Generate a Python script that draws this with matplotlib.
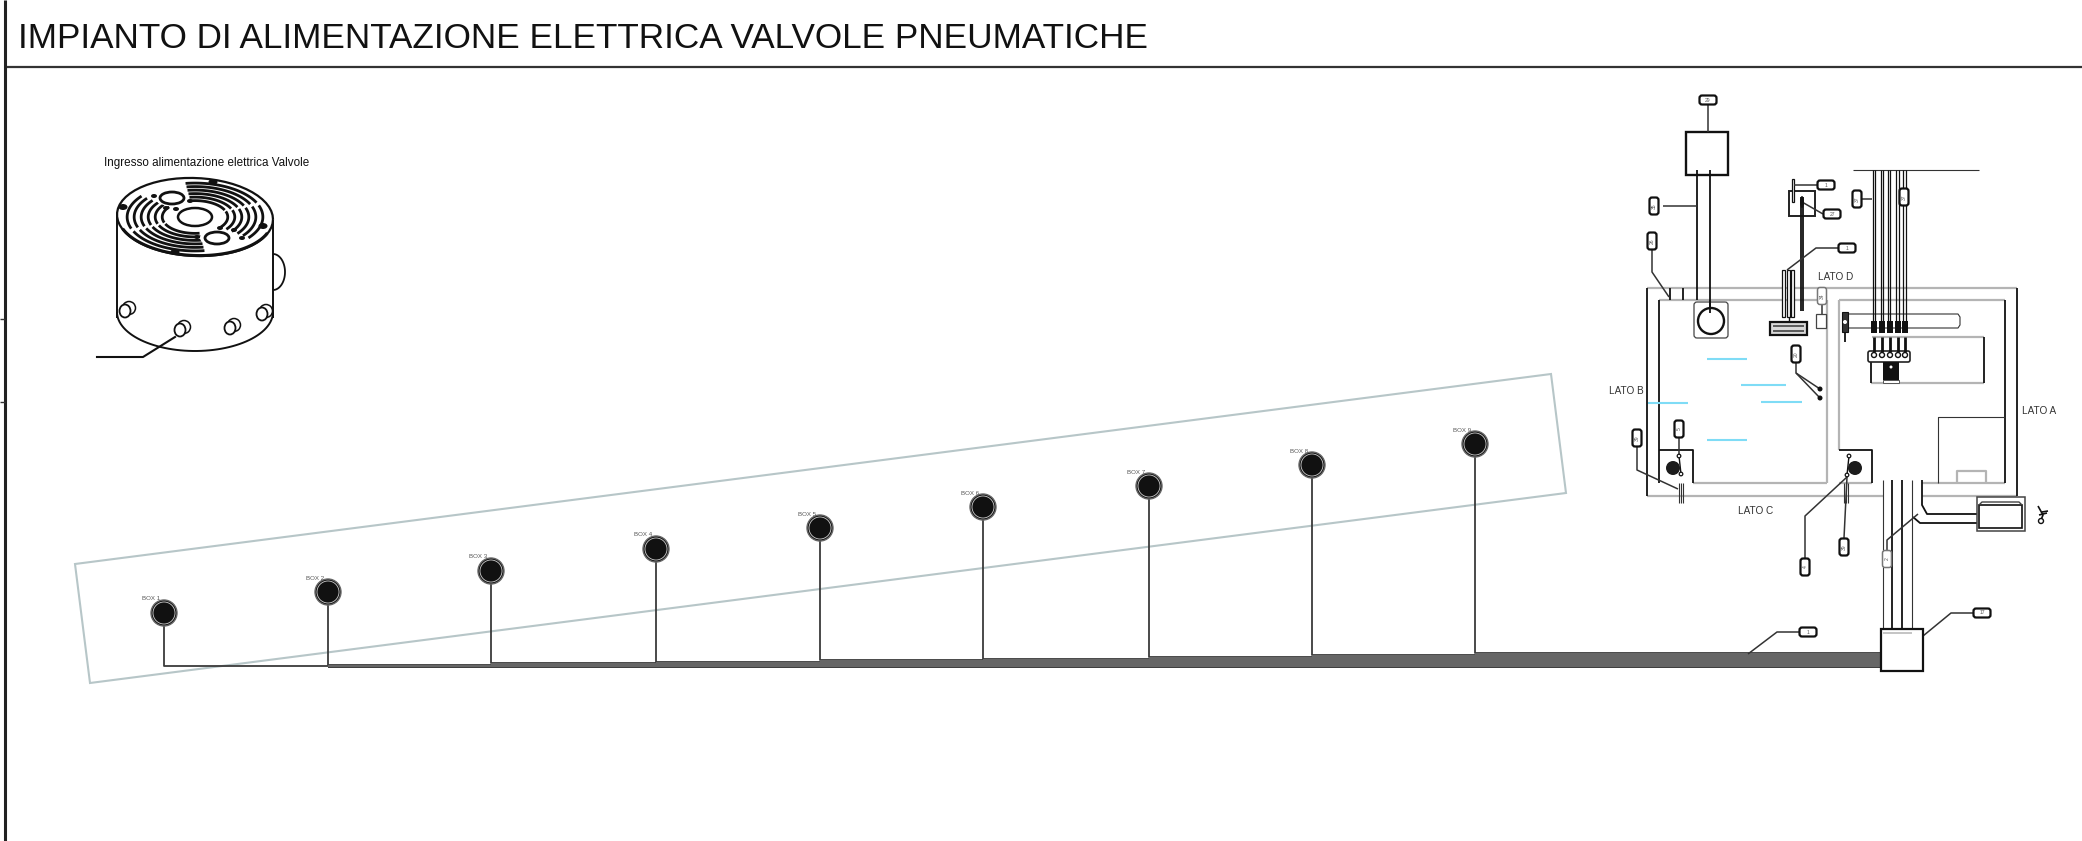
import numpy as np
import matplotlib
matplotlib.use('Agg')
import matplotlib.pyplot as plt
from matplotlib.patches import Circle, Ellipse, FancyBboxPatch, Polygon, Rectangle

plt.rcParams['font.family'] = ['Liberation Sans', 'DejaVu Sans']

W, H = 2082, 841
BLACK = '#111111'
GREY = '#b4b4b4'
DARK = '#555555'
FRAME = '#b7c6c8'
WATER = '#7fdcf6'

title = 'IMPIANTO DI ALIMENTAZIONE ELETTRICA VALVOLE PNEUMATICHE'
valve_label = 'Ingresso alimentazione elettrica Valvole'

# boxes along the line
box_names = ['BOX 1', 'BOX 2', 'BOX 3', 'BOX 4', 'BOX 5', 'BOX 6', 'BOX 7', 'BOX 8', 'BOX 9']
box_x = [164, 328, 491, 656, 820, 983, 1149, 1312, 1475]
box_y = [613, 592, 571, 549, 528, 507, 486, 465, 444]
bus_y = [666, 665, 663, 662, 660, 659, 657, 655, 653]
bus_end = 1882
frame_x = [75, 1551, 1566, 90]
frame_y = [564, 374, 493, 683]

# tank, walls in grey and black
grey_lines = [
    [(1647, 288), (2017, 288)], [(1659, 300), (1827, 300)], [(1839, 300), (2005, 300)],
    [(1827, 300), (1827, 483)], [(1839, 300), (1839, 450)], [(1693, 483), (1827, 483)],
    [(1839, 483), (1872, 483)], [(1922, 483), (2005, 483)], [(1647, 496), (1883, 496)],
    [(1922, 496), (2017, 496)], [(1872, 337), (1984, 337)], [(1871, 383), (1984, 383)],
    [(1957, 483), (1957, 471), (1986, 471), (1986, 483)],
]
black_lines = [
    [(1647, 288), (1647, 496)], [(1659, 300), (1659, 483)], [(2005, 300), (2005, 483)],
    [(2017, 288), (2017, 496)], [(1659, 450), (1693, 450), (1693, 483)],
    [(1839, 450), (1872, 450), (1872, 483)],
    [(1984, 337), (1984, 383)], [(1871, 362), (1871, 383)],
    [(1670, 288), (1670, 300)], [(1683, 288), (1683, 300)],
    [(1892, 480), (1892, 629)], [(1902, 480), (1902, 629)],
    [(1922, 480), (1922, 505), (1927, 514), (1977, 514)],
    [(1913, 517), (1920, 523), (1977, 523)],
    [(1801, 197), (1801, 311)], [(1803, 197), (1803, 311)],
    [(1845, 312), (1845, 342)],
]
thin_lines = [
    [(1883, 480), (1883, 629)], [(1912, 480), (1912, 629)],
    [(1938, 483), (1938, 417), (2005, 417)], [(1853, 170), (1979, 170)],
    [(1842, 314), (1958, 314), (1960, 317), (1960, 325), (1958, 328), (1842, 328)],
    [(1679, 483), (1679, 503)], [(1681, 483), (1681, 503)], [(1683, 483), (1683, 503)],
    [(1844, 483), (1844, 503)], [(1846, 483), (1846, 503)], [(1848, 483), (1848, 503)],
]
pipe_x = [1873, 1875, 1881, 1883, 1888, 1890, 1896, 1899, 1903, 1906]
valve_x = [1874, 1882, 1890, 1898, 1905]

# callouts: centre, text, vertical or not, then the leader line
pills = [
    (1708, 100, '29', False), (1654, 206, '35', True), (1652, 241, '26', True),
    (1826, 185, '1', False), (1832, 214, '27', False), (1847, 248, '1', False),
    (1857, 199, '37', True), (1904, 197, '37', True), (1796, 354, '20', True),
    (1679, 429, '5', True), (1637, 438, '39', True), (1805, 567, '4', True),
    (1844, 547, '39', True), (1982, 613, '17', False), (1808, 632, '1', False),
]
thin_pills = [(1822, 296, '34'), (1887, 559, '2')]
leaders = [
    [(1708, 105), (1708, 132)], [(1663, 206), (1697, 206)],
    [(1652, 250), (1652, 272), (1669, 297)], [(1794, 185), (1817, 185)],
    [(1802, 202), (1816, 210), (1823, 214)], [(1787, 270), (1816, 248), (1838, 248)],
    [(1862, 199), (1872, 199)], [(1796, 363), (1796, 373), (1820, 389)],
    [(1796, 373), (1820, 398)], [(1679, 438), (1679, 456)],
    [(1637, 447), (1637, 470), (1678, 489)], [(1805, 558), (1805, 516), (1847, 477)],
    [(1844, 538), (1847, 477)], [(1973, 613), (1951, 613), (1923, 636)],
    [(1799, 632), (1777, 632), (1748, 654)], [(1887, 551), (1887, 540), (1918, 514)],
    [(1822, 305), (1822, 314)],
]
lato_text = ['LATO D', 'LATO B', 'LATO A', 'LATO C']
lato_x = [1836, 1626, 2039, 1756]
lato_y = [277, 391, 411, 511]
water_x0 = [1707, 1741, 1761, 1648, 1707]
water_x1 = [1747, 1786, 1802, 1688, 1747]
water_y = [359, 385, 402, 403, 440]

# valve body sketch at the top left
body_cx, body_cy, body_a, body_b = 195, 217, 78, 39
hole_x = [172, 217]
hole_y = [198, 238]
mount_x = [213, 123, 175, 263]
mount_y = [182, 207, 252, 226]
dot_x = [154, 190, 176, 234, 197, 220, 242, 166]
dot_y = [196, 201, 209, 230, 237, 228, 238, 208]
port_x = [125, 180, 230, 262]
port_y = [310, 329, 327, 313]
ring_scale = [0.42, 0.51, 0.60, 0.69, 0.78, 0.87]
slot_t0 = [262, 340, 82, 160]
slot_t1 = [335, 398, 155, 218]
leader_x = [175, 143, 97]
leader_y = [337, 357, 357]


def poly(ax, pts, color=BLACK, lw=1.4, zorder=3):
    pts = np.array(pts)
    ax.plot(pts[:, 0], pts[:, 1], color=color, lw=lw, zorder=zorder, solid_capstyle='butt')


def arc(ax, cx, cy, a, b, t0, t1, color=BLACK, lw=1.4, tilt=0.0):
    t = np.radians(np.linspace(t0, t1, 60))
    x = a * np.cos(t)
    y = b * np.sin(t)
    ax.plot(cx + x, cy + y + tilt * x, color=color, lw=lw, zorder=4, solid_capstyle='butt')


fig = plt.figure(figsize=(W / 100, H / 100), dpi=100)
ax = fig.add_axes([0, 0, 1, 1])
ax.set_xlim(0, W)
ax.set_ylim(H, 0)
ax.axis('off')

# header
ax.text(18, 38.5, title, fontsize=25.3, color=BLACK, va='center', ha='left')
poly(ax, [(4, 66.5), (W, 66.5)], color='#333333', lw=1.6)
poly(ax, [(5, 0), (5, H)], color='#222222', lw=2.2)
poly(ax, [(0, 319), (5, 319)], color='#333333', lw=1)
poly(ax, [(0, 402), (5, 402)], color='#333333', lw=1)

# valve sketch
ax.text(207, 163, valve_label, fontsize=8.35, color=BLACK, ha='center', va='center')
arc(ax, body_cx, body_cy, body_a, body_b, 0, 360, lw=1.6, tilt=0.03)
arc(ax, body_cx, body_cy + 1, body_a - 1, body_b - 1.5, 20, 160, lw=2.2, tilt=0.03)
poly(ax, [(117, 215), (117, 318)], lw=1.4)
poly(ax, [(273, 220), (273, 318)], lw=1.4)
arc(ax, 195, 312, 78, 39, 0, 180, lw=1.4)
for s in ring_scale:
    for t0, t1 in zip(slot_t0, slot_t1):
        arc(ax, body_cx, body_cy, body_a * s, body_b * s, t0, t1, lw=2.0)
ax.add_patch(Ellipse((body_cx, body_cy), 52, 26, fc='white', ec='none', zorder=5))
ax.add_patch(Ellipse((body_cx, body_cy), 34, 18, fc='white', ec=BLACK, lw=1.8, zorder=6))
for x, y in zip(hole_x, hole_y):
    ax.add_patch(Ellipse((x, y), 34, 16, fc='white', ec='none', zorder=5))
    ax.add_patch(Ellipse((x, y), 24, 12, fc='white', ec=BLACK, lw=2, zorder=6))
for x, y in zip(dot_x, dot_y):
    ax.add_patch(Ellipse((x, y), 6, 4, fc=BLACK, ec='none', zorder=6))
for x, y in zip(mount_x, mount_y):
    ax.add_patch(Ellipse((x, y), 9, 6, fc=BLACK, ec='none', zorder=6))
for x, y in zip(port_x, port_y):
    ax.add_patch(Ellipse((x + 4, y - 2), 13, 13, fc='white', ec=BLACK, lw=1.1, zorder=5))
    ax.add_patch(Ellipse((x, y + 1), 11, 13, fc='white', ec=BLACK, lw=1.3, zorder=6))
arc(ax, 273, 272, 12, 18, -90, 90, lw=1.3)
ax.plot(leader_x, leader_y, color=BLACK, lw=1.5, zorder=7)

# frame, bus and boxes
ax.add_patch(Polygon(list(zip(frame_x, frame_y)), closed=True, fc='none', ec=FRAME, lw=1.5, zorder=1))
for i, (x, y) in enumerate(zip(box_x, box_y)):
    poly(ax, [(x, y), (x, bus_y[i]), (bus_end, bus_y[i])], color='#3a3a3a', lw=1.3, zorder=2)
    ax.add_patch(Circle((x, y), 13, fc=BLACK, ec='#666666', lw=1.0, zorder=4))
    ax.add_patch(Circle((x, y), 11, fc=BLACK, ec='#cccccc', lw=0.6, zorder=5))
    ax.text(x - 13, y - 14, box_names[i], fontsize=4.4, color='#555555', ha='center', va='center')
poly(ax, [(328, 667), (bus_end, 667)], color='#3a3a3a', lw=1.4, zorder=2)
for i in range(1, len(box_x)):
    ax.add_patch(Rectangle((box_x[i], bus_y[i]), bus_end - box_x[i], 667 - bus_y[i], fc='#666666', ec='none', zorder=2))

# tank
for line in grey_lines:
    poly(ax, line, color=GREY, lw=1.6)
for line in black_lines:
    poly(ax, line, lw=1.3)
for line in thin_lines:
    poly(ax, line, color='#333333', lw=0.8)
for x0, x1, y in zip(water_x0, water_x1, water_y):
    poly(ax, [(x0, y), (x1, y)], color=WATER, lw=1.5)
for name, x, y in zip(lato_text, lato_x, lato_y):
    ax.text(x, y, name, fontsize=7.2, color='#333333', ha='center', va='center')

# top box, well, small boxes
ax.add_patch(Rectangle((1686, 132), 42, 43, fc='white', ec=BLACK, lw=1.7, zorder=2))
poly(ax, [(1697, 170), (1697, 300)], lw=1.3)
poly(ax, [(1710, 170), (1710, 313)], lw=1.3)
ax.add_patch(FancyBboxPatch((1696, 304), 30, 32, boxstyle='round,pad=2,rounding_size=3', fc='white', ec='#444444', lw=0.9, zorder=2))
ax.add_patch(Circle((1711, 321), 13, fc='white', ec=BLACK, lw=1.7, zorder=3))
poly(ax, [(1710, 300), (1710, 313)], lw=1.3, zorder=4)
ax.add_patch(Rectangle((1789, 191), 26, 25, fc='none', ec='#222222', lw=1.4, zorder=2))
ax.add_patch(Rectangle((1792, 179), 2, 23, fc='white', ec=BLACK, lw=0.9, zorder=3))
ax.add_patch(Ellipse((1802, 202), 4, 12, fc=BLACK, ec='none', zorder=5))
for x in [1782, 1787, 1791]:
    ax.add_patch(Rectangle((x, 270), 2.5, 47, fc='white', ec=BLACK, lw=0.9, zorder=3))
poly(ax, [(1789, 317), (1789, 322)], lw=1)
ax.add_patch(Rectangle((1770, 322), 37, 13, fc='#d8d8d8', ec=BLACK, lw=1.6, zorder=3))
poly(ax, [(1773, 326), (1804, 326)], color='#444444', lw=1.2, zorder=4)
poly(ax, [(1773, 331), (1804, 331)], color='#444444', lw=1.2, zorder=4)
ax.add_patch(Rectangle((1816, 314), 10, 14, fc='white', ec='#444444', lw=0.9, zorder=3))
ax.add_patch(Rectangle((1842, 312), 6, 20, fc='#333333', ec=BLACK, lw=0.8, zorder=4))
ax.add_patch(Circle((1845, 322), 2, fc='white', ec='none', zorder=5))
for y in [389, 398]:
    ax.add_patch(Circle((1820, y), 2.5, fc=BLACK, ec='none', zorder=5))

# pipes and valves
for x in pipe_x:
    poly(ax, [(x, 170), (x, 327)], lw=0.9)
ax.add_patch(FancyBboxPatch((1869, 352), 40, 9, boxstyle='round,pad=1,rounding_size=2', fc='white', ec='#222222', lw=1.2, zorder=3))
for x in valve_x:
    ax.add_patch(Rectangle((x - 3, 321), 6, 12, fc=BLACK, ec='none', zorder=5))
    poly(ax, [(x, 337), (x, 352)], lw=2, zorder=4)
    ax.add_patch(Circle((x, 355), 2.5, fc='white', ec=BLACK, lw=1, zorder=6))
ax.add_patch(Rectangle((1883, 362), 16, 18, fc=BLACK, ec='none', zorder=3))
ax.add_patch(Circle((1891, 367), 1.5, fc='white', ec='none', zorder=4))
ax.add_patch(Rectangle((1883, 380), 16, 3, fc='white', ec='#555555', lw=0.7, zorder=4))

# corner pumps
ax.add_patch(Circle((1673, 468), 7, fc='#1c1c1c', ec='none', zorder=4))
ax.add_patch(Circle((1855, 468), 7, fc='#1c1c1c', ec='none', zorder=4))
for x, y in [(1679, 456), (1681, 474), (1849, 456), (1847, 475)]:
    ax.add_patch(Circle((x, y), 1.8, fc='white', ec=BLACK, lw=0.9, zorder=6))
poly(ax, [(1679, 456), (1681, 474)], lw=1)
poly(ax, [(1849, 456), (1847, 475)], lw=1)

# junction box and control box
ax.add_patch(Rectangle((1881, 629), 42, 42, fc='none', ec=BLACK, lw=1.6, zorder=5))
poly(ax, [(1883, 633), (1912, 633)], color=GREY, lw=1.1, zorder=6)
ax.add_patch(Rectangle((1977, 497), 48, 34, fc='white', ec='#444444', lw=1.1, zorder=3))
ax.add_patch(Rectangle((1979, 505), 43, 23, fc='white', ec=BLACK, lw=1.2, zorder=4))
poly(ax, [(1979, 505), (1982, 502), (2019, 502), (2022, 505)], color='#444444', lw=1, zorder=4)
poly(ax, [(2038, 506), (2043, 515), (2041, 520)], lw=1.2)
poly(ax, [(2042, 512), (2048, 511)], lw=1.2)
poly(ax, [(2039, 515), (2047, 513)], lw=1.2)
ax.add_patch(Circle((2041, 521), 2.5, fc='white', ec=BLACK, lw=1, zorder=4))

# callouts
for line in leaders:
    poly(ax, line, color='#333333', lw=1.1, zorder=4)
for x, y, txt, vertical in pills:
    w, h = (8, 16) if vertical else (16, 8)
    ax.add_patch(FancyBboxPatch((x - w / 2, y - h / 2), w, h, boxstyle='round,pad=0.5,rounding_size=2.5',
                                fc='white', ec=BLACK, lw=1.6, zorder=7))
    ax.text(x, y, txt, fontsize=3.6, color='#555555', ha='center', va='center',
            rotation=90 if vertical else 0, zorder=8)
for x, y, txt in thin_pills:
    ax.add_patch(FancyBboxPatch((x - 4, y - 8), 8, 16, boxstyle='round,pad=0.5,rounding_size=2.5',
                                fc='white', ec='#777777', lw=1.1, zorder=7))
    ax.text(x, y, txt, fontsize=3.6, color='#555555', ha='center', va='center', rotation=90, zorder=8)

fig.savefig('out.png', dpi=100, facecolor='white')
